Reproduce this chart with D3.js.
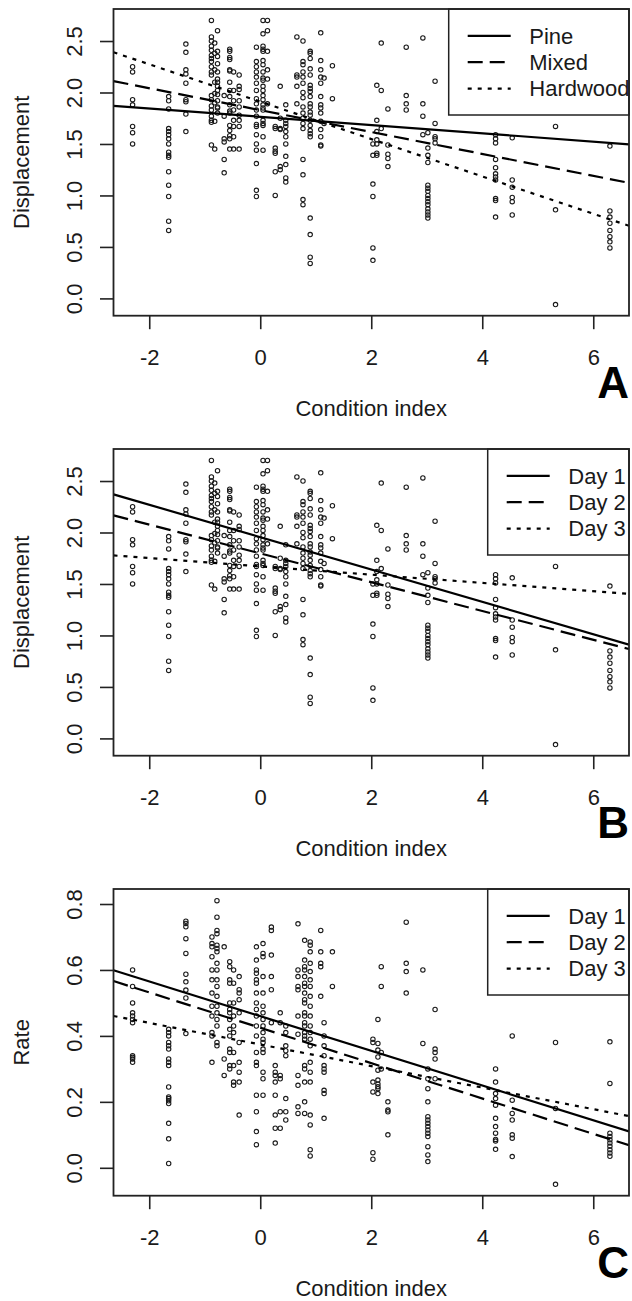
<!DOCTYPE html>
<html><head><meta charset="utf-8">
<script src="https://cdn.jsdelivr.net/npm/d3@7"></script>
<style>
html,body{margin:0;padding:0;background:#fff;}
svg{display:block;font-family:"Liberation Sans",Arial,Helvetica,sans-serif;}
</style></head>
<body>
<script>
// ---------------- DATA ----------------
const xTicks = [-2, 0, 2, 4, 6];
const dispTicks = [0.0, 0.5, 1.0, 1.5, 2.0, 2.5];
const rateTicks = [0.0, 0.2, 0.4, 0.6, 0.8];
const xLabel = "Condition index";
const dispLabel = "Displacement";
const rateLabel = "Rate";
const forestNames = ["Pine", "Mixed", "Hardwood"];
const dayNames = ["Day 1", "Day 2", "Day 3"];

// displacement observations: [condition index, [displacement values]]
const dispPoints = [
  [-2.30, [2.25, 2.20, 1.93, 1.88, 1.67, 1.61, 1.50]],
  [-1.65, [1.96, 1.92, 1.84, 1.65, 1.62, 1.59, 1.55, 1.50, 1.42, 1.39, 1.37, 1.23, 1.10, 0.99, 0.75, 0.66]],
  [-1.34, [2.47, 2.39, 2.22, 2.18, 2.09, 1.93, 1.91, 1.79, 1.62]],
  [-0.88, [2.70, 2.54, 2.50, 2.45, 2.41, 2.36, 2.33, 2.30, 2.25, 2.20, 2.17, 1.97, 1.93, 1.87, 1.83, 1.77, 1.73, 1.71, 1.49]],
  [-0.82, [2.48, 2.38, 2.22, 2.10, 1.99, 1.90, 1.72, 1.45]],
  [-0.77, [2.60, 2.40, 2.35, 2.28, 2.20, 2.13, 2.10, 2.06, 2.02, 1.98, 1.92, 1.86, 1.85, 1.80]],
  [-0.65, [1.97, 1.77, 1.55, 1.52, 1.35, 1.22]],
  [-0.55, [2.42, 2.40, 2.34, 2.32, 2.22, 2.21, 2.10, 2.02, 1.96, 1.88, 1.82, 1.80, 1.68, 1.63, 1.58, 1.55, 1.45]],
  [-0.48, [2.20, 2.02, 1.92, 1.83, 1.73, 1.67, 1.57, 1.45]],
  [-0.38, [2.17, 2.06, 2.03, 1.92, 1.86, 1.78, 1.73, 1.67, 1.45]],
  [-0.07, [2.44, 2.30, 2.25, 2.20, 2.15, 2.09, 2.02, 1.94, 1.89, 1.83, 1.77, 1.69, 1.67, 1.59, 1.50, 1.44, 1.31, 1.05, 0.99]],
  [0.05, [2.70, 2.57, 2.45, 2.42, 2.40, 2.31, 2.27, 2.20, 2.14, 2.12, 2.06, 2.02, 1.97, 1.93, 1.88, 1.85, 1.83, 1.73, 1.70, 1.68, 1.57, 1.44]],
  [0.13, [2.70, 2.60, 2.40, 2.22, 2.13, 1.89]],
  [0.27, [1.67, 1.65, 1.46, 1.43, 1.41, 1.23, 1.00]],
  [0.36, [2.06, 1.75, 1.65, 1.64, 1.28, 1.25]],
  [0.46, [1.88, 1.73, 1.70, 1.67, 1.62, 1.57, 1.50, 1.38, 1.30, 1.17, 1.13]],
  [0.66, [2.54, 2.17, 2.15, 2.06, 1.89]],
  [0.77, [2.50, 2.30, 2.27, 2.20, 2.15, 2.09, 2.00, 1.95, 1.86, 1.80, 1.75, 1.70, 1.65, 1.35, 1.20, 0.96, 0.91]],
  [0.90, [2.40, 2.38, 2.33, 2.23, 2.17, 2.07, 2.04, 2.01, 1.96, 1.89, 1.86, 1.81, 1.78, 1.73, 1.68, 1.63, 1.60, 1.57, 0.78, 0.62, 0.40, 0.34]],
  [1.09, [2.58, 2.31, 2.22, 2.15, 2.09, 1.96, 1.88, 1.85, 1.80, 1.72, 1.64, 1.57, 1.49, 1.48]],
  [1.15, [2.14, 1.70]],
  [1.30, [2.26, 1.94]],
  [2.03, [1.50, 1.39, 1.11, 0.99, 0.49, 0.37]],
  [2.10, [2.07, 1.73, 1.62, 1.54, 1.50, 1.41, 1.39]],
  [2.18, [2.48, 2.02, 1.65]],
  [2.30, [1.84, 1.49, 1.40, 1.36, 1.28]],
  [2.63, [2.44, 1.97, 1.89, 1.83]],
  [2.93, [2.53, 1.89, 1.77, 1.59]],
  [3.02, [1.61, 1.46, 1.39, 1.32, 1.10, 1.07, 1.04, 1.00, 0.97, 0.94, 0.91, 0.87, 0.84, 0.81, 0.78]],
  [3.15, [2.11, 1.70, 1.57, 1.55, 1.51]],
  [4.24, [1.59, 1.55, 1.51, 1.35, 1.27, 1.21, 1.18, 1.15, 0.97, 0.95, 0.79]],
  [4.54, [1.56, 1.15, 1.08, 0.98, 0.94, 0.81]],
  [5.32, [1.67, 0.86, -0.06]],
  [6.30, [1.48, 0.85, 0.79, 0.73, 0.66, 0.60, 0.55, 0.49]]
];

// rate observations: [condition index, [rate values]]
const ratePoints = [
  [-2.30, [0.60, 0.55, 0.50, 0.47, 0.46, 0.45, 0.44, 0.34, 0.335, 0.33, 0.32]],
  [-1.65, [0.42, 0.41, 0.40, 0.38, 0.37, 0.36, 0.33, 0.32, 0.31, 0.245, 0.215, 0.21, 0.203, 0.195, 0.135, 0.088, 0.013]],
  [-1.34, [0.748, 0.741, 0.731, 0.695, 0.65, 0.587, 0.564, 0.539, 0.515, 0.407]],
  [-0.87, [0.70, 0.68, 0.67, 0.64, 0.60, 0.57, 0.53, 0.49, 0.46, 0.41, 0.40, 0.32]],
  [-0.78, [0.81, 0.76, 0.72, 0.71, 0.675, 0.665, 0.655, 0.62, 0.60, 0.57, 0.55, 0.52, 0.49, 0.47, 0.45, 0.43, 0.38, 0.37]],
  [-0.65, [0.67, 0.33, 0.28]],
  [-0.55, [0.625, 0.61, 0.57, 0.56, 0.50, 0.48, 0.47, 0.45, 0.42, 0.40, 0.36, 0.35, 0.31, 0.30]],
  [-0.48, [0.60, 0.56, 0.50, 0.46, 0.43, 0.41, 0.35, 0.31, 0.26, 0.25]],
  [-0.38, [0.58, 0.54, 0.53, 0.51, 0.47, 0.38, 0.32, 0.29, 0.26, 0.16]],
  [-0.07, [0.67, 0.63, 0.60, 0.59, 0.57, 0.56, 0.53, 0.50, 0.48, 0.46, 0.43, 0.40, 0.35, 0.32, 0.31, 0.22, 0.17, 0.11, 0.07]],
  [0.05, [0.68, 0.65, 0.64, 0.58, 0.53, 0.49, 0.47, 0.45, 0.43, 0.41, 0.39, 0.38, 0.36, 0.35, 0.29, 0.27, 0.22]],
  [0.20, [0.73, 0.72, 0.645, 0.58, 0.54, 0.44]],
  [0.27, [0.31, 0.29, 0.28, 0.26, 0.22, 0.16, 0.12, 0.075]],
  [0.36, [0.47, 0.44, 0.28, 0.27, 0.17, 0.12]],
  [0.46, [0.43, 0.41, 0.37, 0.355, 0.34, 0.21, 0.17, 0.145]],
  [0.68, [0.74, 0.60, 0.58, 0.55, 0.54, 0.46, 0.405, 0.28, 0.25, 0.185, 0.165]],
  [0.80, [0.69, 0.63, 0.61, 0.60, 0.58, 0.56, 0.55, 0.53, 0.51, 0.50, 0.47, 0.46, 0.44, 0.43, 0.41, 0.40, 0.39, 0.31, 0.30, 0.26, 0.20, 0.165]],
  [0.90, [0.685, 0.675, 0.655, 0.62, 0.595, 0.57, 0.55, 0.52, 0.49, 0.46, 0.43, 0.41, 0.39, 0.37, 0.32, 0.29, 0.26, 0.16, 0.13, 0.055, 0.036]],
  [1.09, [0.72, 0.655, 0.62, 0.61, 0.52]],
  [1.15, [0.44, 0.40, 0.37, 0.34, 0.31, 0.30, 0.29, 0.235, 0.225, 0.15]],
  [1.30, [0.655, 0.55]],
  [2.03, [0.39, 0.38, 0.26, 0.23, 0.046, 0.026]],
  [2.12, [0.45, 0.377, 0.357, 0.336, 0.296, 0.266, 0.254, 0.246, 0.24, 0.225]],
  [2.18, [0.61, 0.55, 0.35, 0.30]],
  [2.30, [0.20, 0.175, 0.17, 0.10]],
  [2.63, [0.745, 0.62, 0.595, 0.53]],
  [2.93, [0.60, 0.377]],
  [3.02, [0.30, 0.27, 0.24, 0.20, 0.155, 0.145, 0.135, 0.125, 0.115, 0.105, 0.095, 0.064, 0.039, 0.019]],
  [3.15, [0.48, 0.36, 0.35, 0.33, 0.27]],
  [4.24, [0.30, 0.26, 0.225, 0.21, 0.19, 0.15, 0.125, 0.105, 0.086, 0.081, 0.056]],
  [4.54, [0.40, 0.205, 0.165, 0.145, 0.10, 0.09, 0.034]],
  [5.32, [0.38, 0.18, -0.05]],
  [6.30, [0.382, 0.256, 0.105, 0.095, 0.085, 0.075, 0.065, 0.055, 0.045, 0.035]]
];

// fitted lines: intercept and slope (y = a + b*x)
const forestIntercepts = [1.764, 1.829, 1.911];
const forestSlopes = [-0.0402, -0.1064, -0.1815];
const dayDispIntercepts = [1.955, 1.797, 1.671];
const dayDispSlopes = [-0.1572, -0.1398, -0.0402];
const dayRateIntercepts = [0.460, 0.4246, 0.374];
const dayRateSlopes = [-0.0526, -0.0536, -0.0327];

// ---------------- LAYOUT ----------------
const W = 632, H = 1301;
const box = {left: 113.5, right: 629, top: 9, bottom: 315.7};
const panelOffsets = [0, 440, 880];
const dashes = ["none", "15,7", "4,6"];
const FONT = 22;
const ink = "#1a1a1a";

const svg = d3.select("body").append("svg").attr("width", W).attr("height", H);
svg.append("rect").attr("width", W).attr("height", H).attr("fill", "#fff");

const x = d3.scaleLinear().domain([-2.644, 6.644]).range([box.left, box.right]);

function flatten(cols) {
  const out = [];
  cols.forEach(([cx, ys]) => ys.forEach(v => out.push([cx, v])));
  return out;
}

const panels = [
  {letter: "A", yLabel: dispLabel, yDomain: [-0.168, 2.811], yTicks: dispTicks, fmt: d3.format(".1f"),
   pts: flatten(dispPoints), names: forestNames, ints: forestIntercepts, slopes: forestSlopes, legendW: 180.3},
  {letter: "B", yLabel: dispLabel, yDomain: [-0.168, 2.811], yTicks: dispTicks, fmt: d3.format(".1f"),
   pts: flatten(dispPoints), names: dayNames, ints: dayDispIntercepts, slopes: dayDispSlopes, legendW: 141.3},
  {letter: "C", yLabel: rateLabel, yDomain: [-0.0846, 0.8455], yTicks: rateTicks, fmt: d3.format(".1f"),
   pts: flatten(ratePoints), names: dayNames, ints: dayRateIntercepts, slopes: dayRateSlopes, legendW: 141.3}
];

panels.forEach((p, i) => {
  const g = svg.append("g").attr("transform", `translate(0,${panelOffsets[i]})`);
  const y = d3.scaleLinear().domain(p.yDomain).range([box.bottom, box.top]);
  const clipId = "clip" + i;
  g.append("clipPath").attr("id", clipId).append("rect")
    .attr("x", box.left).attr("y", box.top)
    .attr("width", box.right - box.left).attr("height", box.bottom - box.top);

  // points
  g.append("g").selectAll("circle").data(p.pts).join("circle")
    .attr("cx", d => x(d[0])).attr("cy", d => y(d[1])).attr("r", 2.2)
    .attr("fill", "none").attr("stroke", ink).attr("stroke-width", 1.1);

  // fitted lines
  const [x0, x1] = x.domain();
  const lg = g.append("g").attr("clip-path", `url(#${clipId})`);
  p.names.forEach((n, k) => {
    lg.append("line")
      .attr("x1", x(x0)).attr("y1", y(p.ints[k] + p.slopes[k] * x0))
      .attr("x2", x(x1)).attr("y2", y(p.ints[k] + p.slopes[k] * x1))
      .attr("stroke", "#000").attr("stroke-width", 2.2)
      .attr("stroke-dasharray", dashes[k]);
  });

  // legend
  const legL = box.right - p.legendW;
  const leg = g.append("g");
  leg.append("rect").attr("x", legL).attr("y", box.top)
    .attr("width", p.legendW).attr("height", 106)
    .attr("fill", "#fff").attr("stroke", "#222").attr("stroke-width", 1.5);
  p.names.forEach((n, k) => {
    const ly = box.top + 26.8 + k * 26.4;
    leg.append("line").attr("x1", legL + 19).attr("x2", legL + 62)
      .attr("y1", ly).attr("y2", ly)
      .attr("stroke", "#000").attr("stroke-width", 2.2).attr("stroke-dasharray", dashes[k]);
    leg.append("text").attr("x", legL + 80.6).attr("y", ly).attr("dy", "0.35em")
      .attr("font-size", FONT).attr("fill", ink).text(n);
  });

  // box
  g.append("rect").attr("x", box.left).attr("y", box.top)
    .attr("width", box.right - box.left).attr("height", box.bottom - box.top)
    .attr("fill", "none").attr("stroke", "#222").attr("stroke-width", 1.8);

  // x axis
  const xa = g.append("g").attr("transform", `translate(0,${box.bottom})`)
    .call(d3.axisBottom(x).tickValues(xTicks).tickSize(13.5).tickFormat(d3.format("d")));
  xa.select(".domain").remove();
  xa.selectAll("line").attr("stroke", "#222").attr("stroke-width", 1.6);
  xa.selectAll("text").attr("y", 41.6).attr("dy", "0.35em")
    .attr("font-size", FONT).attr("fill", ink).attr("font-family", null)
    .text(d => d3.format("d")(d).replace("−", "-"));

  // y axis
  const ya = g.append("g").attr("transform", `translate(${box.left},0)`)
    .call(d3.axisLeft(y).tickValues(p.yTicks).tickSize(13.5).tickFormat(p.fmt));
  ya.select(".domain").remove();
  ya.selectAll("line").attr("stroke", "#222").attr("stroke-width", 1.6);
  ya.selectAll("text").attr("x", null).attr("dy", "0.35em")
    .attr("transform", "translate(-39.5,0) rotate(-90)")
    .attr("text-anchor", "middle").attr("font-size", FONT).attr("fill", ink).attr("font-family", null);

  // axis titles
  g.append("text").attr("x", (box.left + box.right) / 2).attr("y", box.bottom + 92.3)
    .attr("dy", "0.35em").attr("text-anchor", "middle")
    .attr("font-size", FONT).attr("fill", ink).text(xLabel);
  g.append("text")
    .attr("transform", `translate(21,${(box.top + box.bottom) / 2}) rotate(-90)`)
    .attr("dy", "0.35em").attr("text-anchor", "middle")
    .attr("font-size", FONT).attr("fill", ink).text(p.yLabel);

  // panel letter
  g.append("text").attr("x", box.right).attr("y", box.bottom + 82.5)
    .attr("text-anchor", "end").attr("font-size", 44).attr("font-weight", "bold")
    .attr("fill", "#000").text(p.letter);
});
</script>
</body></html>
